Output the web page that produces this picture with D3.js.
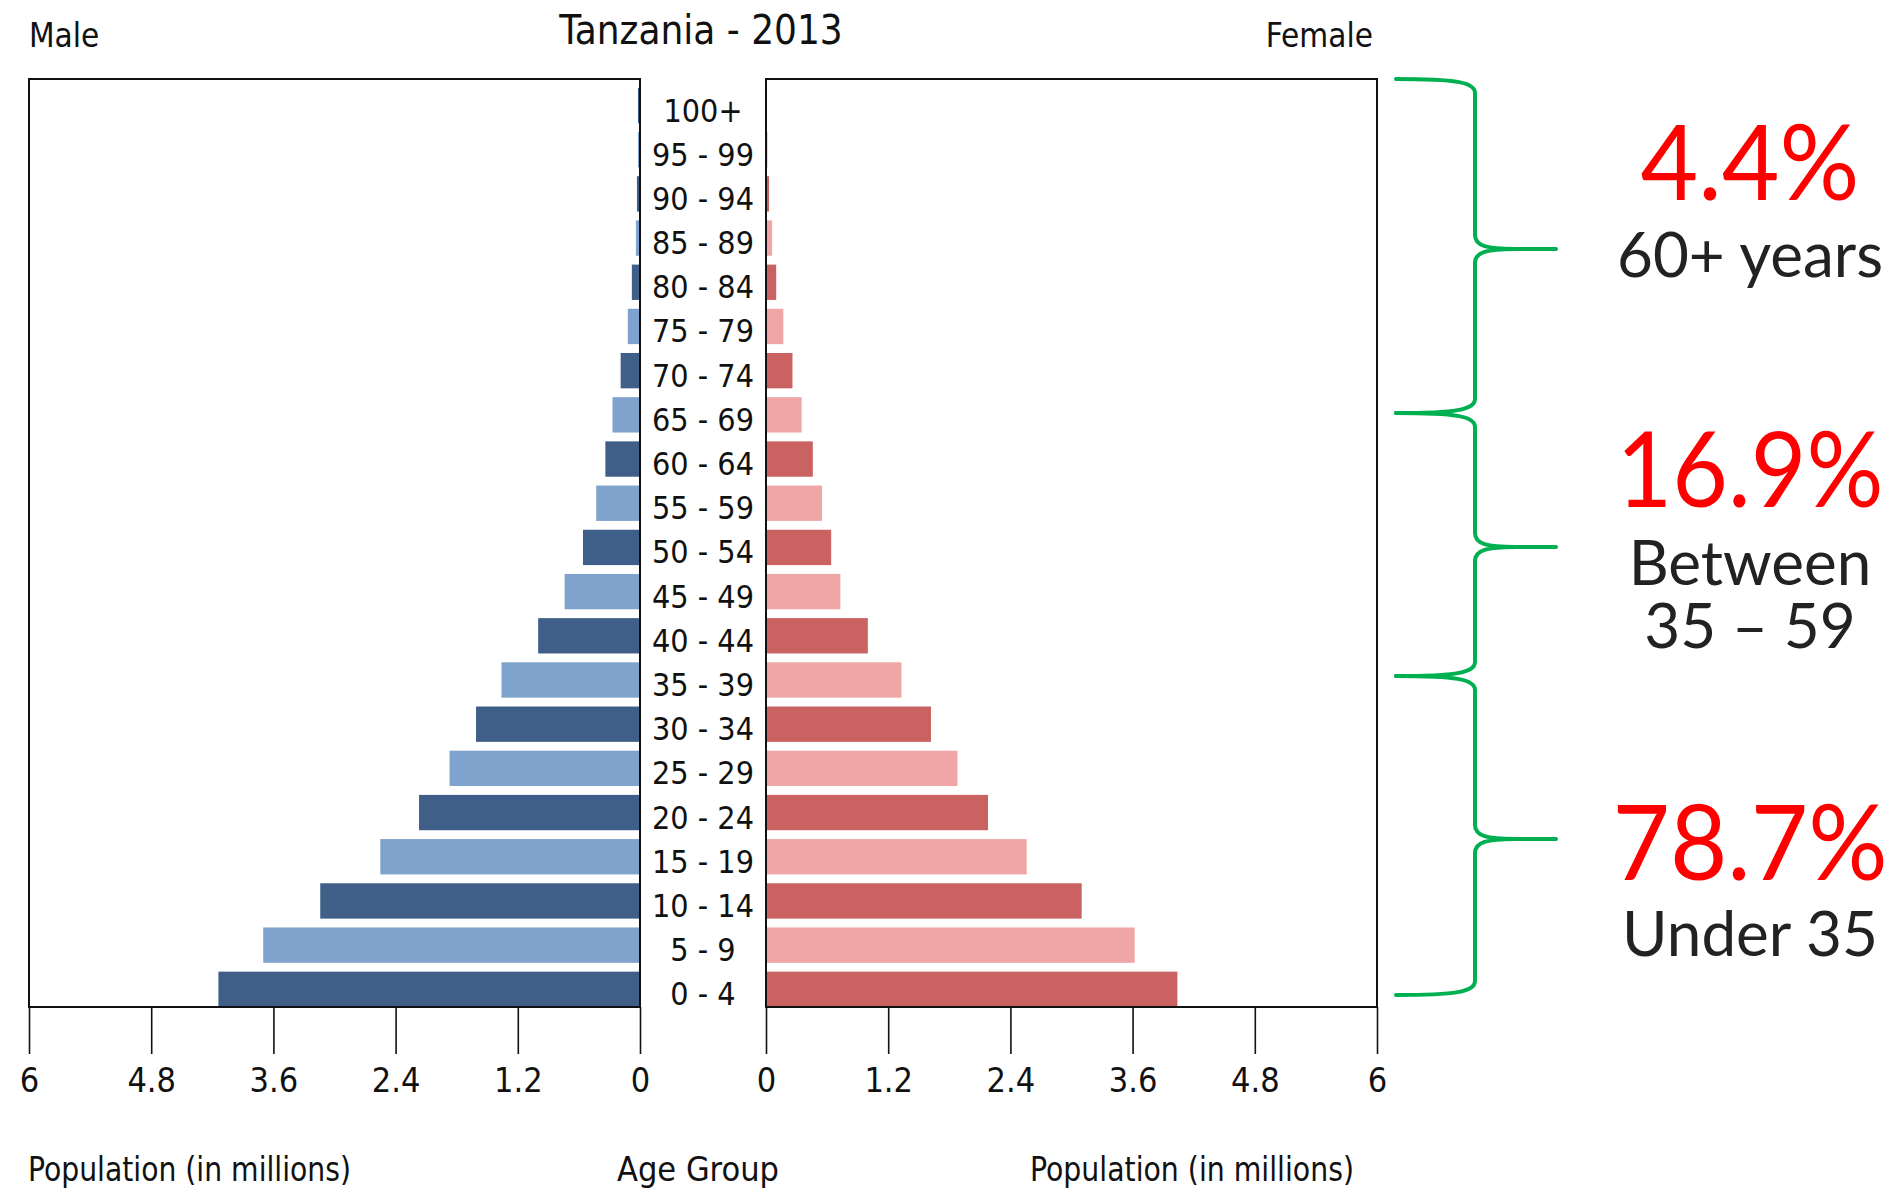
<!DOCTYPE html>
<html>
<head>
<meta charset="utf-8">
<script src="https://cdn.jsdelivr.net/npm/d3@7"></script>
<style>
  body { margin: 0; background: #fff; }
  text { font-family: "DejaVu Sans Condensed", "DejaVu Sans", sans-serif; font-stretch: condensed; fill: #111; }
  text.note { font-family: Lato, "Open Sans", sans-serif; font-stretch: normal; }
</style>
</head>
<body>
<svg id="chart" width="1903" height="1190"></svg>
<script>
// Tanzania 2013, population by age group (millions)
const ageGroups = ["0 - 4", "5 - 9", "10 - 14", "15 - 19", "20 - 24", "25 - 29", "30 - 34",
    "35 - 39", "40 - 44", "45 - 49", "50 - 54", "55 - 59", "60 - 64", "65 - 69",
    "70 - 74", "75 - 79", "80 - 84", "85 - 89", "90 - 94", "95 - 99", "100+"];
const male = [4.14, 3.70, 3.14, 2.55, 2.17, 1.87, 1.61, 1.36, 1.00, 0.74, 0.56,
    0.43, 0.34, 0.27, 0.19, 0.12, 0.08, 0.04, 0.03, 0.02, 0.02];
const female = [4.04, 3.62, 3.10, 2.56, 2.18, 1.88, 1.62, 1.33, 1.00, 0.73, 0.64,
    0.55, 0.46, 0.35, 0.26, 0.17, 0.10, 0.06, 0.03, 0.015, 0.01];
const tickValues = [0, 1.2, 2.4, 3.6, 4.8, 6];

// share of population per bracket
const shares = ["4.4%", "16.9%", "78.7%"];
const shareLabels = [["60+ years"], ["Between", "35 \u2013 59"], ["Under 35"]];

const TOP = 79, BOTTOM = 1007;
const MALE_L = 29, MALE_R = 640, FEMALE_L = 766, FEMALE_R = 1377;
const MID = (MALE_R + FEMALE_L) / 2;

const svg = d3.select("#chart");

const xMale = d3.scaleLinear().domain([0, 6]).range([MALE_R, MALE_L]);
const xFemale = d3.scaleLinear().domain([0, 6]).range([FEMALE_L, FEMALE_R]);
const y = d3.scaleBand()
    .domain(ageGroups)
    .range([BOTTOM, TOP])
    .paddingInner(0.2)
    .paddingOuter(0.1)
    .align(1);

const colors = {
    male: ["#3f5f88", "#7fa3cc"],
    female: ["#cb6262", "#f0a6a6"]
};

// bars
svg.append("g").selectAll("rect")
    .data(male)
    .join("rect")
    .attr("x", d => xMale(d))
    .attr("y", (d, i) => y(ageGroups[i]))
    .attr("width", d => MALE_R - xMale(d))
    .attr("height", y.bandwidth())
    .attr("fill", (d, i) => colors.male[i % 2]);

svg.append("g").selectAll("rect")
    .data(female)
    .join("rect")
    .attr("x", FEMALE_L)
    .attr("y", (d, i) => y(ageGroups[i]))
    .attr("width", d => xFemale(d) - FEMALE_L)
    .attr("height", y.bandwidth())
    .attr("fill", (d, i) => colors.female[i % 2]);

// frames
for (let [l, r] of [[MALE_L, MALE_R], [FEMALE_L, FEMALE_R]]) {
    svg.append("rect")
        .attr("x", l)
        .attr("y", TOP)
        .attr("width", r - l)
        .attr("height", BOTTOM - TOP)
        .attr("fill", "none")
        .attr("stroke", "#111")
        .attr("stroke-width", 2);
}

// axes
for (let scale of [xMale, xFemale]) {
    let g = svg.append("g")
        .attr("transform", "translate(0," + BOTTOM + ")")
        .call(d3.axisBottom(scale)
            .tickValues(tickValues)
            .tickSize(47)
            .tickSizeOuter(0)
            .tickPadding(14)
            .tickFormat(d => String(d)));
    g.select(".domain").remove();
    g.selectAll("line").attr("stroke", "#111").attr("stroke-width", 1.6);
    g.attr("font-size", 34);
}

// age labels
svg.append("g").selectAll("text")
    .data(ageGroups)
    .join("text")
    .attr("x", MID)
    .attr("y", d => y(d) + y.bandwidth() / 2 + 16)
    .attr("text-anchor", "middle")
    .attr("font-size", 32)
    .text(d => d);

// titles
svg.append("text")
    .attr("x", 701).attr("y", 44)
    .attr("text-anchor", "middle")
    .attr("font-size", 40)
    .text("Tanzania - 2013");
svg.append("text")
    .attr("x", 29).attr("y", 47)
    .attr("font-size", 33)
    .text("Male");
svg.append("text")
    .attr("x", FEMALE_R - 4).attr("y", 47)
    .attr("text-anchor", "end")
    .attr("font-size", 33)
    .text("Female");
svg.append("text")
    .attr("x", 28).attr("y", 1181)
    .attr("font-size", 34)
    .attr("textLength", 323).attr("lengthAdjust", "spacingAndGlyphs")
    .text("Population (in millions)");
svg.append("text")
    .attr("x", 698).attr("y", 1181)
    .attr("text-anchor", "middle")
    .attr("font-size", 34)
    .text("Age Group");
svg.append("text")
    .attr("x", 1030).attr("y", 1181)
    .attr("font-size", 34)
    .attr("textLength", 324).attr("lengthAdjust", "spacingAndGlyphs")
    .text("Population (in millions)");

// braces on the right
const braces = [[79, 249, 413], [413, 547, 676], [676, 839, 995]];
const BX0 = 1396, BXS = 1475, BXT = 1556, R = 14;

function bracePath([y0, yt, y1]) {
    let p = d3.path();
    p.moveTo(BX0, y0);
    p.bezierCurveTo(BX0 + (BXS - BX0) * 0.75, y0, BXS, y0 + 3, BXS, y0 + R);
    p.lineTo(BXS, yt - R);
    p.bezierCurveTo(BXS, yt - 3, BXS + 12, yt, BXS + (BXT - BXS) * 0.5, yt);
    p.lineTo(BXT, yt);
    p.moveTo(BXS + (BXT - BXS) * 0.5, yt);
    p.bezierCurveTo(BXS + 12, yt, BXS, yt + 3, BXS, yt + R);
    p.lineTo(BXS, y1 - R);
    p.bezierCurveTo(BXS, y1 - 3, BX0 + (BXS - BX0) * 0.75, y1, BX0, y1);
    return p.toString();
}

svg.append("g").selectAll("path")
    .data(braces)
    .join("path")
    .attr("d", bracePath)
    .attr("fill", "none")
    .attr("stroke", "#00b050")
    .attr("stroke-width", 4)
    .attr("stroke-linecap", "round");

const NOTE_X = 1750;
const pctY = [200, 507, 880];
const pctWidth = [219, 267, 275];
const labelY = [[277], [585, 648], [956]];

shares.forEach((s, i) => {
    svg.append("text")
        .attr("class", "note")
        .attr("x", NOTE_X).attr("y", pctY[i])
        .attr("text-anchor", "middle")
        .attr("font-size", 104)
        .attr("textLength", pctWidth[i]).attr("lengthAdjust", "spacingAndGlyphs")
        .style("fill", "#ff0000")
        .text(s);
    shareLabels[i].forEach((t, j) => {
        svg.append("text")
            .attr("class", "note")
            .attr("x", NOTE_X).attr("y", labelY[i][j])
            .attr("text-anchor", "middle")
            .attr("font-size", 62)
            .style("fill", "#222")
            .text(t);
    });
});
</script>
</body>
</html>
